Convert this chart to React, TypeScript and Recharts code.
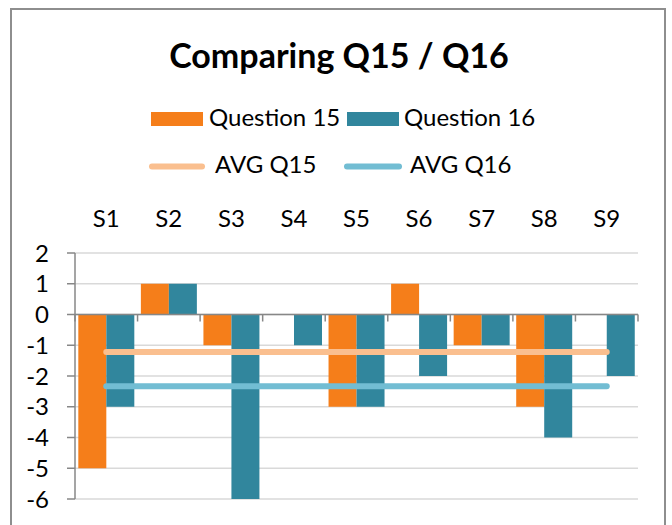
import React from "react";
import {
  ComposedChart,
  Bar,
  Line,
  XAxis,
  YAxis,
  CartesianGrid,
  ReferenceLine,
} from "recharts";

const CATEGORIES = ["S1", "S2", "S3", "S4", "S5", "S6", "S7", "S8", "S9"];
const Q15 = [-5, 1, -1, 0, -3, 1, -1, -3, 0];
const Q16 = [-3, 1, -6, -1, -3, -2, -1, -4, -2];
const AVG_Q15 = -1.22;
const AVG_Q16 = -2.33;
const Y_TICKS = [-6, -5, -4, -3, -2, -1, 0, 1, 2];

const ORANGE = "#F57E1A";
const TEAL = "#31869D";
const LIGHT_ORANGE = "#FABF8F";
const LIGHT_TEAL = "#72BDD3";
const AXIS = "#878787";
const FONT = "Lato, 'Open Sans', sans-serif";

const data = CATEGORIES.map((name, i) => ({
  name,
  q15: Q15[i],
  q16: Q16[i],
  avgQ15: AVG_Q15,
  avgQ16: AVG_Q16,
}));

// the category axis sits on y=0, with tick marks between categories
const ZeroAxis = (props: any) => {
  const { x1, x2, y1 } = props;
  const step = (x2 - x1) / CATEGORIES.length;
  return (
    <g>
      <line x1={x1} y1={y1} x2={x2} y2={y1} stroke={AXIS} strokeWidth={1.5} />
      {Array.from({ length: CATEGORIES.length + 1 }, (_, i) => (
        <line
          key={i}
          x1={x1 + step * i}
          x2={x1 + step * i}
          y1={y1}
          y2={y1 + 7}
          stroke={AXIS}
          strokeWidth={1.5}
        />
      ))}
    </g>
  );
};

export default function App() {
  return (
    <div
      style={{
        position: "fixed",
        left: 0,
        top: 0,
        width: 672,
        height: 525,
        overflow: "hidden",
        background: "#fff",
        fontFamily: FONT,
      }}
    >
      <div
        style={{
          position: "absolute",
          left: 10,
          top: 8,
          width: 652,
          height: 560,
          border: "2px solid #8e8e8e",
        }}
      />
      <svg
        width={672}
        height={525}
        style={{ position: "absolute", left: 0, top: 0 }}
        fontFamily={FONT}
      >
        <text x={339} y={68} textAnchor="middle" fontSize={34} fontWeight="bold" fill="#000">
          Comparing Q15 / Q16
        </text>
        <rect x={151} y={112} width={52} height={14} fill={ORANGE} />
        <text x={209} y={126} fontSize={24} fill="#000">Question 15</text>
        <rect x={347} y={112} width={52} height={14} fill={TEAL} />
        <text x={404} y={126} fontSize={24} fill="#000">Question 16</text>
        <line x1={152} x2={202} y1={166.5} y2={166.5} stroke={LIGHT_ORANGE} strokeWidth={6} strokeLinecap="round" />
        <text x={215} y={173} fontSize={24} fill="#000">AVG Q15</text>
        <line x1={347} x2={399} y1={166.5} y2={166.5} stroke={LIGHT_TEAL} strokeWidth={6} strokeLinecap="round" />
        <text x={410} y={173} fontSize={24} fill="#000">AVG Q16</text>
      </svg>
      <div style={{ position: "absolute", left: 0, top: 0 }}>
        <ComposedChart
          width={672}
          height={525}
          data={data}
          margin={{ top: 213, right: 34, bottom: 26, left: 0 }}
          barCategoryGap="5.3%"
          barGap={0}
          style={{ fontFamily: FONT }}
        >
          <CartesianGrid horizontal vertical={false} stroke="#d9d9d9" strokeWidth={1.5} />
          <XAxis
            dataKey="name"
            orientation="top"
            height={40}
            axisLine={false}
            tickLine={false}
            tickSize={0}
            tickMargin={26}
            tick={{ fill: "#000", fontSize: 24 }}
            interval={0}
          />
          <YAxis
            type="number"
            domain={[-6, 2]}
            ticks={Y_TICKS}
            width={75}
            interval={0}
            tickSize={8}
            tickMargin={18}
            axisLine={{ stroke: AXIS, strokeWidth: 1.5 }}
            tickLine={{ stroke: AXIS, strokeWidth: 1.5 }}
            tick={{ fill: "#000", fontSize: 24 }}
          />
          <Bar dataKey="q15" name="Question 15" fill={ORANGE} isAnimationActive={false} />
          <Bar dataKey="q16" name="Question 16" fill={TEAL} isAnimationActive={false} />
          <ReferenceLine y={0} shape={ZeroAxis} />
          <Line
            type="linear"
            dataKey="avgQ15"
            name="AVG Q15"
            stroke={LIGHT_ORANGE}
            strokeWidth={6}
            strokeLinecap="round"
            dot={false}
            activeDot={false}
            isAnimationActive={false}
          />
          <Line
            type="linear"
            dataKey="avgQ16"
            name="AVG Q16"
            stroke={LIGHT_TEAL}
            strokeWidth={6}
            strokeLinecap="round"
            dot={false}
            activeDot={false}
            isAnimationActive={false}
          />
        </ComposedChart>
      </div>
    </div>
  );
}
